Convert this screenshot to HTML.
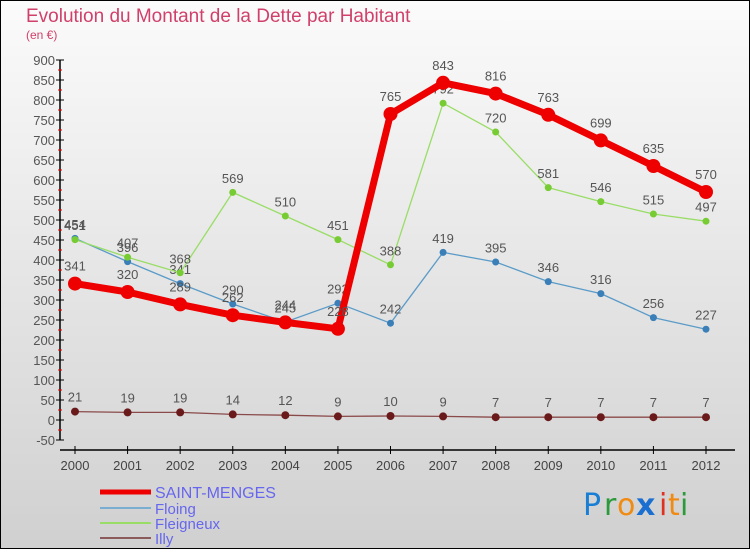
<!DOCTYPE html>
<html><head><meta charset="utf-8"><style>
html,body{margin:0;padding:0}
body{width:750px;height:550px;overflow:hidden;font-family:"Liberation Sans",sans-serif}
</style></head><body>
<svg id="c" width="750" height="550" xmlns="http://www.w3.org/2000/svg">
<defs><linearGradient id="bg" x1="0" y1="0" x2="0" y2="1"><stop offset="0" stop-color="#fbfbfb"/><stop offset="1" stop-color="#d0d0d0"/></linearGradient></defs>
<rect x="0.5" y="0.5" width="749" height="548" fill="url(#bg)" stroke="#000"/>
<text x="26" y="22" font-size="19" fill="#d0406a">Evolution du Montant de la Dette par Habitant</text>
<text x="26" y="39" font-size="12" fill="#d0406a">(en €)</text>
<g id="axes"></g><g id="series"></g><g id="legend"></g>
<g font-size="30" font-family="'DejaVu Sans',sans-serif">
<text x="583" y="515" fill="#1a7fd4">P</text><text x="604" y="515" fill="#2a9a3a">r</text><text x="617" y="515" fill="#f08a10">o</text><text x="636" y="515" fill="#1a6fd0" font-weight="bold">x</text><text x="659" y="515" fill="#e03020">i</text><text x="668" y="515" fill="#f08a10">t</text><text x="680" y="515" fill="#2a9a3a">i</text>
</g>
</svg>
<script>
const years=[2000,2001,2002,2003,2004,2005,2006,2007,2008,2009,2010,2011,2012];
const saintMenges=[341,320,289,262,244,228,765,843,816,763,699,635,570];
const floing=[454,396,341,290,245,292,242,419,395,346,316,256,227];
const fleigneux=[451,407,368,569,510,451,388,792,720,581,546,515,497];
const illy=[21,19,19,14,12,9,10,9,7,7,7,7,7];
const yTicks=[-50,0,50,100,150,200,250,300,350,400,450,500,550,600,650,700,750,800,850,900];
const NS="http://www.w3.org/2000/svg";
const X=i=>75+i*(706-75)/12;
const Y=v=>420-v*0.4;
function mk(tag,attrs,parent,text){const e=document.createElementNS(NS,tag);for(const k in attrs)e.setAttribute(k,attrs[k]);if(text!==undefined)e.textContent=text;parent.appendChild(e);return e;}
const axes=document.getElementById('axes');
let yl=mk('line',{x1:60,y1:Y(900),x2:60,y2:Y(-50),stroke:'#000','stroke-width':1.5},axes);


yTicks.forEach(t=>{
  let l=mk('line',{x1:56,y1:Y(t),x2:64,y2:Y(t),stroke:'#000'},axes);
  
  
  let m=mk('line',{x1:58,y1:Y(t+25),x2:62,y2:Y(t+25),stroke:'#e00'},axes);
  if(t===900)m.remove();
  let tx=mk('text',{x:55,y:Y(t)+5,'text-anchor':'end','font-size':13,fill:'#555'},axes,String(t));
  
  
});
let xl=mk('line',{x1:60,y1:450,x2:735,y2:450,stroke:'#000','stroke-width':1.5},axes);


years.forEach((yr,i)=>{
  mk('line',{x1:X(i),y1:446,x2:X(i),y2:454,stroke:'#000'},axes);
  let tx=mk('text',{x:X(i),y:470,'text-anchor':'middle','font-size':13,fill:'#444'},axes,String(yr));
  
  
});
const series=[
 {name:'floing',vals:floing,color:'#5b9bc8',w:1.3,r:3.5,fill:'#3a7fb8'},
 {name:'fleigneux',vals:fleigneux,color:'#99dd66',w:1.3,r:3.5,fill:'#77cc33'},
 {name:'illy',vals:illy,color:'#8b4a4a',w:1.3,r:4,fill:'#6a1a1a'},
 {name:'saint-menges',vals:saintMenges,color:'#ee0000',w:7,r:7,fill:'#ee0000'}
];
const sg=document.getElementById('series');
series.forEach(s=>{
  const g=mk('g',{},sg);
  
  
  let pts=s.vals.map((v,i)=>X(i)+','+Y(v)).join(' ');
  mk('polyline',{points:pts,fill:'none',stroke:s.color,'stroke-width':s.w,'stroke-linejoin':'round'},g);
  s.vals.forEach((v,i)=>{
    let c=mk('circle',{cx:X(i),cy:Y(v),r:s.r,fill:s.fill},g);
    
    
    let t=mk('text',{x:X(i),y:Y(v)-(s.r+6),'text-anchor':'middle','font-size':13,fill:'#555'},g,String(v));
    
    
  });
});
const lg=document.getElementById('legend');
const leg=[['SAINT-MENGES','#ee0000',5,492,16],['Floing','#7aaed0',2,508,15],['Fleigneux','#99dd66',2,523,15],['Illy','#8b5a5a',2,538,15]];
leg.forEach(([n,c,w,y,fs])=>{
  const g=mk('g',{},lg);
  
  
  mk('line',{x1:100,y1:y,x2:151,y2:y,stroke:c,'stroke-width':w},g);
  mk('text',{x:155,y:y+6,'font-size':fs,fill:'#6666ee'},g,n);
});
</script>
</body></html>
